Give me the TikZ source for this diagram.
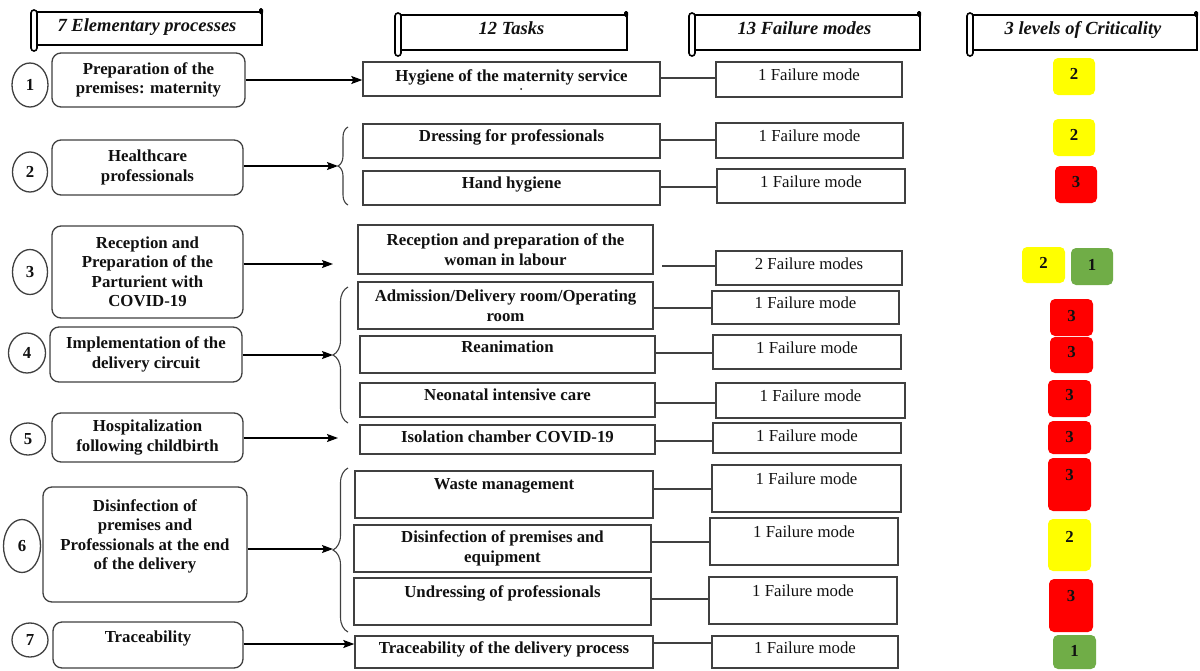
\documentclass[tikz,border=0pt]{standalone}
\usepackage{fontspec}
\setmainfont{Liberation Serif}
\usetikzlibrary{shapes.geometric,arrows.meta,decorations.pathreplacing}
\definecolor{critY}{HTML}{FFFF00}
\definecolor{critR}{HTML}{FF0000}
\definecolor{critG}{HTML}{70AD47}
\definecolor{edge}{HTML}{404040}
\definecolor{ink}{HTML}{111111}
\tikzset{
  txtbase/.style={font=\fontsize{16.8}{19.5}\selectfont\bfseries, align=center, inner sep=1pt, text=ink},
  procbox/.style={txtbase, draw=edge, line width=1.3pt, rounded corners=9pt, fill=white},
  numcirc/.style={ellipse, draw=edge, line width=1.3pt, inner sep=0pt, text=ink, font=\fontsize{16.8}{19.5}\selectfont\bfseries},
  taskbox/.style={txtbase, draw=edge, line width=1.4pt},
  failbox/.style={txtbase, font=\fontsize{16.8}{19.5}\selectfont, draw=edge, line width=1.4pt},
  critbox/.style={txtbase, rounded corners=5pt, fill=#1},
  lift/.style={text height=12pt, text depth=#1},
  hdrtext/.style={font=\fontsize{18.5}{20}\selectfont\bfseries\itshape, inner sep=0pt, text height=13pt, text depth=4pt, text=ink},
  scrollline/.style={draw=black, line width=1.6pt},
  arr/.style={draw=black, line width=1.2pt, -{Stealth[length=11pt,width=8pt,inset=2pt]}},
  conn/.style={draw=edge, line width=1.2pt},
  bracestyle/.style={draw=edge, line width=1.1pt, decorate, decoration={brace, amplitude=#1}},
}
\newcommand\hdrscroll[4]{%
  \draw[scrollline] (#1,#2) -- (#3,#2) -- (#3,#4) -- (#1,#4);
  \draw[scrollline, fill=white, rounded corners=3pt] ({#1-6},{#2-2}) rectangle (#1,{#4+6});
  \fill[rounded corners=1.5pt] ({#3-3},{#2-4}) rectangle ({#3+1},{#2+2});
}
\begin{document}
\begin{tikzpicture}[x=1pt,y=-1pt]
\useasboundingbox (0,0) rectangle (1200,670);
\fill[white] (0,0) rectangle (1200,670);

% headers
\hdrscroll{37}{12}{262}{45}
\node[hdrtext] (h1) at (147,26.5) {7 Elementary processes};
\hdrscroll{401}{15}{627}{50}
\node[hdrtext] (h2) at (511.5,29.5) {12 Tasks};
\hdrscroll{695}{15}{920}{50}
\node[hdrtext] (h3) at (804.5,29.5) {13 Failure modes};
\hdrscroll{973}{15}{1197}{50}
\node[hdrtext] (h4) at (1083,29.5) {3 levels of Criticality};

% numbered circles
\node[numcirc, minimum width=36pt, minimum height=44pt] (n1) at (30,85) {1};
\node[numcirc, minimum width=35pt, minimum height=40pt] (n2) at (30,172) {2};
\node[numcirc, minimum width=35pt, minimum height=45pt] (n3) at (30,272) {3};
\node[numcirc, minimum width=37pt, minimum height=40pt] (n4) at (27,353) {4};
\node[numcirc, minimum width=35pt, minimum height=32pt] (n5) at (28,439) {5};
\node[numcirc, minimum width=37pt, minimum height=53pt] (n6) at (22,546) {6};
\node[numcirc, minimum width=36pt, minimum height=34pt] (n7) at (30,640) {7};

% processes
\node[procbox, minimum width=193pt, minimum height=54pt] (p1) at (148.5,80) {Preparation of the\\premises: maternity};
\node[procbox, minimum width=191pt, minimum height=55pt] (p2) at (147.5,167.5) {Healthcare\\professionals};
\node[procbox, minimum width=191pt, minimum height=92pt] (p3) at (147.5,272) {Reception and\\Preparation of the\\Parturient with\\COVID-19};
\node[procbox, minimum width=192pt, minimum height=55pt] (p4) at (146,354.5) {Implementation of the\\delivery circuit};
\node[procbox, minimum width=191pt, minimum height=49pt] (p5) at (147.5,437.5) {Hospitalization\\following childbirth};
\node[procbox, minimum width=204pt, minimum height=115pt] (p6) at (145,544.5) {Disinfection of\\premises and\\Professionals at the end\\of the delivery\\ \mbox{}};
\node[procbox, minimum width=190pt, minimum height=46pt, lift=17.2pt] (p7) at (148,645) {Traceability};

% tasks
\node[taskbox, minimum width=297pt, minimum height=34pt, lift=7.2pt] (t1) at (511.5,79) {Hygiene of the maternity service};
\node[taskbox, minimum width=297pt, minimum height=34pt, lift=11.2pt] (t2) at (511.5,141) {Dressing for professionals};
\node[taskbox, minimum width=297pt, minimum height=34pt, lift=11.2pt] (t3) at (511.5,188) {Hand hygiene};
\node[taskbox, minimum width=295pt, minimum height=49pt] (t4) at (505.5,249.5) {Reception and preparation of the\\woman in labour};
\node[taskbox, minimum width=295pt, minimum height=47pt] (t5) at (505.5,305.5) {Admission/Delivery room/Operating\\room};
\node[taskbox, minimum width=295pt, minimum height=37pt, lift=16.2pt] (t6) at (507.5,354.5) {Reanimation};
\node[taskbox, minimum width=295pt, minimum height=34pt, lift=11.2pt] (t7) at (507.5,400) {Neonatal intensive care};
\node[taskbox, minimum width=295pt, minimum height=29pt, lift=6.2pt] (t8) at (507.5,439.5) {Isolation chamber COVID-19};
\node[taskbox, minimum width=298pt, minimum height=47pt, lift=22.2pt] (t9) at (504,494.5) {Waste management};
\node[taskbox, minimum width=297pt, minimum height=47pt] (t10) at (502.5,548.5) {Disinfection of premises and\\equipment};
\node[taskbox, minimum width=297pt, minimum height=47pt, lift=20.2pt] (t11) at (502.5,601.5) {Undressing of professionals};
\node[taskbox, minimum width=298pt, minimum height=32pt, lift=9.2pt] (t12) at (504,652) {Traceability of the delivery process};
\fill[ink] (521,89) circle (1);

% failure modes
\node[failbox, minimum width=186pt, minimum height=35pt, lift=10.2pt] (f1) at (809,79.5) {1 Failure mode};
\node[failbox, minimum width=187pt, minimum height=35pt, lift=10.2pt] (f2) at (809.5,140.5) {1 Failure mode};
\node[failbox, minimum width=188pt, minimum height=34pt, lift=9.2pt] (f3) at (811,186) {1 Failure mode};
\node[failbox, minimum width=186pt, minimum height=34pt, lift=9.2pt] (f4) at (809,268) {2 Failure modes};
\node[failbox, minimum width=187pt, minimum height=33pt, lift=10.2pt] (f5) at (805.5,307.5) {1 Failure mode};
\node[failbox, minimum width=188pt, minimum height=34pt, lift=9.2pt] (f6) at (807,352) {1 Failure mode};
\node[failbox, minimum width=189pt, minimum height=35pt, lift=10.2pt] (f7) at (810.5,400.5) {1 Failure mode};
\node[failbox, minimum width=188pt, minimum height=30pt, lift=5.2pt] (f8) at (807,438) {1 Failure mode};
\node[failbox, minimum width=189pt, minimum height=47pt, lift=20.2pt] (f9) at (806.5,488.5) {1 Failure mode};
\node[failbox, minimum width=188pt, minimum height=47pt, lift=20.2pt] (f10) at (804,541.5) {1 Failure mode};
\node[failbox, minimum width=188pt, minimum height=47pt, lift=20.2pt] (f11) at (803,600.5) {1 Failure mode};
\node[failbox, minimum width=186pt, minimum height=32pt, lift=9.2pt] (f12) at (805,652) {1 Failure mode};

% criticality
\node[critbox=critY, minimum width=42pt, minimum height=37pt, lift=5.6pt] (k1) at (1074,76.5) {2};
\node[critbox=critY, minimum width=42pt, minimum height=37pt, lift=5.6pt] (k2) at (1074,137.5) {2};
\node[critbox=critR, minimum width=42pt, minimum height=37pt, lift=5.6pt] (k3) at (1076,184.5) {3};
\node[critbox=critY, minimum width=43pt, minimum height=36pt, lift=4.6pt] (k4) at (1043.5,265) {2};
\node[critbox=critG, minimum width=42pt, minimum height=37pt, lift=3.6pt] (k5) at (1092,266.5) {1};
\node[critbox=critR, minimum width=43pt, minimum height=37pt, lift=3.6pt] (k6) at (1071.5,317.5) {3};
\node[critbox=critR, minimum width=43pt, minimum height=36pt, lift=6.6pt] (k7) at (1071.5,355) {3};
\node[critbox=critR, minimum width=43pt, minimum height=37pt, lift=7.6pt] (k8) at (1069.5,398.5) {3};
\node[critbox=critR, minimum width=43pt, minimum height=33pt, lift=1.6pt] (k9) at (1069.5,437.5) {3};
\node[critbox=critR, minimum width=43pt, minimum height=53pt, lift=19.6pt] (k10) at (1069.5,484.5) {3};
\node[critbox=critY, minimum width=43pt, minimum height=52pt, lift=16.6pt] (k11) at (1069.5,545) {2};
\node[critbox=critR, minimum width=44pt, minimum height=53pt, lift=19.6pt] (k12) at (1071,605.5) {3};
\node[critbox=critG, minimum width=43pt, minimum height=34pt, lift=2.6pt] (k13) at (1074.5,652) {1};

% braces
\coordinate (b2) at (338,166);
\coordinate (b4) at (333,355);
\coordinate (b6) at (333,549);
\coordinate (e3) at (333,264);
\coordinate (e5) at (338,438);
\coordinate (e7) at (0,644);
\draw[bracestyle=10pt] (348,205) -- (348,127);
\draw[bracestyle=15pt] (348,423) -- (348,287);
\draw[bracestyle=15pt] (348,632) -- (348,468);

% arrows
\draw[arr] (p1.east) -- (p1.east -| t1.west);
\draw[arr] (p2.east |- b2) -- (b2);
\draw[arr] (p3.east |- e3) -- (e3);
\draw[arr] (p4.east |- b4) -- (b4);
\draw[arr] (p5.east |- e5) -- (e5);
\draw[arr] (p6.east |- b6) -- (b6);
\draw[arr] (p7.east |- e7) -- (t12.west |- e7);

% connectors
\coordinate (s4) at (662,266);
\draw[conn] (t1.east |- 0,78) -- (f1.west |- 0,78);
\draw[conn] (t2.east |- 0,140) -- (f2.west |- 0,140);
\draw[conn] (t3.east |- 0,187) -- (f3.west |- 0,187);
\draw[conn] (s4) -- (f4.west |- s4);
\draw[conn] (t5.east |- 0,308) -- (f5.west |- 0,308);
\draw[conn] (t6.east |- 0,353) -- (f6.west |- 0,353);
\draw[conn] (t7.east |- 0,403) -- (f7.west |- 0,403);
\draw[conn] (t8.east |- 0,441) -- (f8.west |- 0,441);
\draw[conn] (t9.east |- 0,489) -- (f9.west |- 0,489);
\draw[conn] (t10.east |- 0,542) -- (f10.west |- 0,542);
\draw[conn] (t11.east |- 0,599) -- (f11.west |- 0,599);
\draw[conn] (t12.east |- 0,643) -- (f12.west |- 0,643);
\end{tikzpicture}
\end{document}
